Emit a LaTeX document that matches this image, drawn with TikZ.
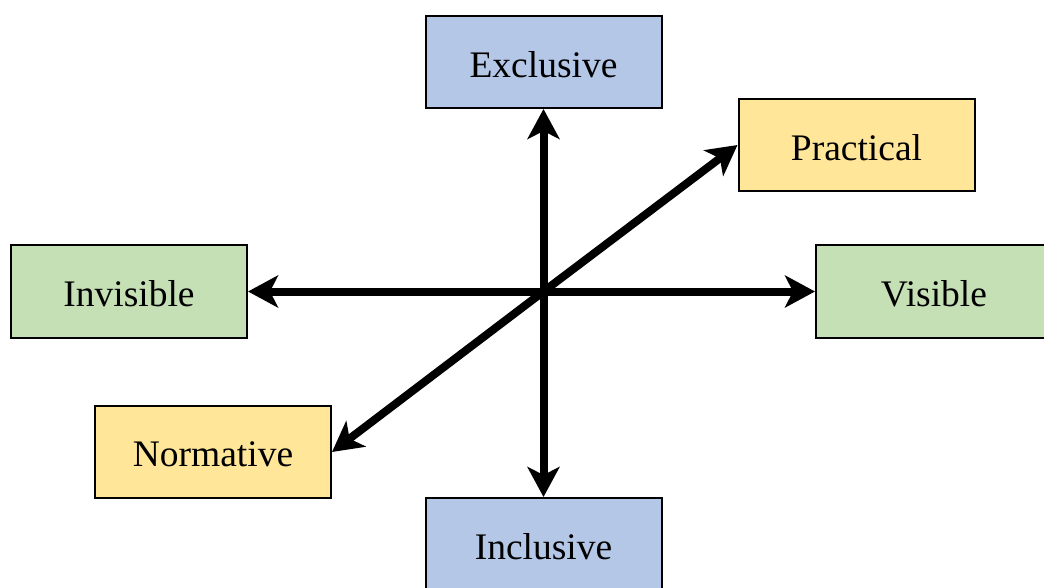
\documentclass[tikz,border=0pt]{standalone}
\usepackage{fontspec}
\setmainfont{Liberation Serif}
\usetikzlibrary{arrows.meta}
\definecolor{cblue}{HTML}{B4C7E7}
\definecolor{cyellow}{HTML}{FFE699}
\definecolor{cgreen}{HTML}{C5E0B4}
\newcommand{\lbl}[1]{\raisebox{-2.5bp}[\height][\depth]{#1}}
\tikzset{
  box/.style={draw=black, line width=2bp, minimum width=236bp, minimum height=92bp, inner sep=0pt,
    font=\fontsize{37.5bp}{45bp}\selectfont},
  axis/.style={line width=8bp, -{Stealth[length=30bp, width=32bp, inset=8bp]}}
}
\begin{document}
\begin{tikzpicture}[x=1bp, y=-1bp]
\useasboundingbox (0,0) rectangle (1044,588);
\clip (0,0) rectangle (1044,588);
\node[box, fill=cblue] (exc) at (543.5,62) {\lbl{Exclusive}};
\node[box, fill=cyellow] (prac) at (856.5,145) {\lbl{Practical}};
\node[box, fill=cgreen] (inv) at (129,291.5) {\lbl{Invisible}};
\node[box, fill=cgreen] (vis) at (934,291.5) {\lbl{Visible}};
\node[box, fill=cyellow] (norm) at (213,452) {\lbl{Normative}};
\node[box, fill=cblue] (inc) at (543.5,544) {\lbl{Inclusive}};
\coordinate (c) at (543.5,291.5);
\draw[axis] (c) -- (exc.south);
\draw[axis] (c) -- (inc.north);
\draw[axis] (c) -- (inv.east);
\draw[axis] (c) -- (vis.west);
\draw[axis] (c) -- (prac.west);
\draw[axis] (c) -- (norm.east);
\end{tikzpicture}
\end{document}
